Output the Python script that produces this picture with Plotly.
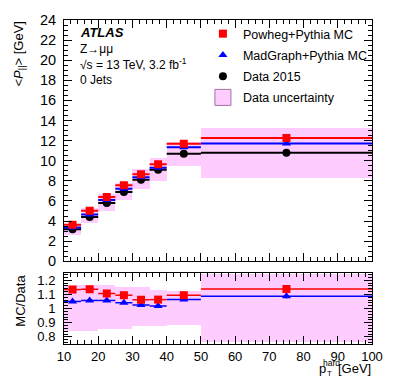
import plotly.graph_objects as go
from plotly.subplots import make_subplots

# bins in pT(hard) [GeV]
pt_center = [12.5, 17.5, 22.5, 27.5, 32.5, 37.5, 45, 75]
pt_halfwidth = [2.5, 2.5, 2.5, 2.5, 2.5, 2.5, 5, 25]

# mean P_parallel [GeV]
data_mean = [3.18, 4.40, 5.80, 6.90, 8.10, 9.10, 10.70, 10.80]
powheg_mean = [3.62, 5.02, 6.40, 7.55, 8.65, 9.65, 11.70, 12.25]
madgraph_mean = [3.35, 4.65, 6.10, 7.22, 8.35, 9.30, 11.35, 11.72]
unc_lo = [2.66, 3.83, 4.97, 6.10, 7.20, 7.95, 9.50, 8.30]
unc_hi = [3.73, 5.26, 6.66, 7.80, 9.15, 10.30, 11.90, 13.30]

# MC / Data
ratio_powheg = [1.134, 1.136, 1.106, 1.094, 1.062, 1.063, 1.094, 1.138]
ratio_madgraph = [1.050, 1.057, 1.057, 1.041, 1.025, 1.018, 1.064, 1.087]
ratio_err = [0.008, 0.008, 0.008, 0.008, 0.008, 0.008, 0.008, 0.016]
ratio_unc_lo = [0.840, 0.840, 0.853, 0.853, 0.873, 0.873, 0.883, 0.762]
ratio_unc_hi = [1.165, 1.165, 1.165, 1.152, 1.152, 1.129, 1.125, 1.240]

RED = "#ff0000"
BLUE = "#0000ff"
PINK = "#ffccff"
FONT = "Liberation Sans"

W, H = 395, 379
L, R, T, B = 63.5, 375, 15, 344


def px2x(p):
    return (p - L) / (R - L)


def px2y(p):
    return (B - p) / (B - T)


fig = make_subplots(rows=2, cols=1, shared_xaxes=True, vertical_spacing=0.0365,
                    row_heights=[0.745, 0.219])

widths = [2 * w for w in pt_halfwidth]

# data uncertainty bands
fig.add_trace(go.Bar(x=pt_center, y=[h - l for h, l in zip(unc_hi, unc_lo)], base=unc_lo,
                     width=widths, marker=dict(color=PINK, line=dict(width=0)),
                     showlegend=False, hoverinfo="skip"), row=1, col=1)
fig.add_trace(go.Bar(x=pt_center, y=[h - l for h, l in zip(ratio_unc_hi, ratio_unc_lo)],
                     base=ratio_unc_lo, width=widths,
                     marker=dict(color=PINK, line=dict(width=0)),
                     showlegend=False, hoverinfo="skip"), row=2, col=1)


def hbar(color):
    return dict(type="data", array=pt_halfwidth, width=0, thickness=2, color=color)


fig.add_trace(go.Scatter(x=pt_center, y=data_mean, mode="markers", name="Data 2015",
                         marker=dict(symbol="circle", size=8, color="black"),
                         error_x=hbar("black"), legendrank=3, legendgroup="c"), row=1, col=1)
fig.add_trace(go.Scatter(x=pt_center, y=madgraph_mean, mode="markers", name="MadGraph+Pythia MC",
                         marker=dict(symbol="triangle-up", size=8, color=BLUE),
                         error_x=hbar(BLUE), legendrank=2, legendgroup="b"), row=1, col=1)
fig.add_trace(go.Scatter(x=pt_center, y=powheg_mean, mode="markers", name="Powheg+Pythia MC",
                         marker=dict(symbol="square", size=8, color=RED),
                         error_x=hbar(RED), legendrank=1, legendgroup="a"), row=1, col=1)
fig.add_trace(go.Scatter(x=[None], y=[None], mode="markers", name="Data uncertainty",
                         marker=dict(symbol="square", size=16, color=PINK,
                                     line=dict(color="#a070a0", width=1)),
                         legendrank=4, legendgroup="d"), row=1, col=1)

fig.add_trace(go.Scatter(x=pt_center, y=ratio_madgraph, mode="markers", showlegend=False,
                         marker=dict(symbol="triangle-up", size=8, color=BLUE),
                         error_x=dict(type="data", array=pt_halfwidth, width=0, thickness=1.5, color=BLUE),
                         error_y=dict(type="data", array=ratio_err, width=0, thickness=1.5, color=BLUE)),
              row=2, col=1)
fig.add_trace(go.Scatter(x=pt_center, y=ratio_powheg, mode="markers", showlegend=False,
                         marker=dict(symbol="square", size=8, color=RED),
                         error_x=dict(type="data", array=pt_halfwidth, width=0, thickness=1.5, color=RED),
                         error_y=dict(type="data", array=ratio_err, width=0, thickness=1.5, color=RED)),
              row=2, col=1)

axis_common = dict(showline=True, linecolor="black", linewidth=1, mirror="allticks",
                   ticks="inside", ticklen=8, tickcolor="black", showgrid=False, zeroline=False)

fig.update_xaxes(range=[10, 100], dtick=10, tick0=0,
                 tickfont=dict(family=FONT, size=13, color="black"),
                 minor=dict(ticks="inside", ticklen=4, dtick=2, tickcolor="black", showgrid=False),
                 **axis_common)
fig.update_xaxes(showticklabels=False, row=1, col=1)
fig.update_yaxes(range=[0, 24], dtick=2, ticklabelstandoff=4,
                 tickfont=dict(family=FONT, size=14.5, color="black"),
                 minor=dict(ticks="inside", ticklen=4, dtick=0.5, tickcolor="black", showgrid=False),
                 row=1, col=1, **axis_common)
fig.update_yaxes(range=[0.75, 1.25], tickvals=[0.8, 0.9, 1.0, 1.1, 1.2],
                 ticktext=["0.8", "0.9", "1", "1.1", "1.2"], ticklabelstandoff=5,
                 tickfont=dict(family=FONT, size=13, color="black"),
                 minor=dict(ticks="inside", ticklen=4, dtick=0.02, tickcolor="black", showgrid=False),
                 row=2, col=1, **axis_common)


def note(text, xp, yp, size=12, xanchor="left", **kw):
    fig.add_annotation(text=text, x=px2x(xp), y=px2y(yp), xref="paper", yref="paper",
                       xanchor=xanchor, yanchor="middle", showarrow=False,
                       font=dict(family=FONT, size=size, color="black"), **kw)


note("<b><i>ATLAS</i></b>", 78, 28, size=13)
note("Z→μμ", 78, 44)
note("√s = 13 TeV, 3.2 fb<sup>-1</sup>", 78, 60)
note("0 Jets", 78, 76)

note("&lt;<i>P</i><sub>||</sub>&gt; [GeV]", 18, 50, size=13, xanchor="center", textangle=-90)
note("MC/Data", 20, 300, size=13, xanchor="center", textangle=-90)

# x title: p_T^hard [GeV], sub/superscript stacked
note("[GeV]", 376, 369, size=13, xanchor="right")
note("p", 325, 369, size=13, xanchor="center")
note("hard", 334, 363, size=8.5, xanchor="center")
note("T", 332, 374, size=8, xanchor="center")

fig.update_layout(
    width=W, height=H,
    margin=dict(l=L, r=W - R, t=T, b=H - B),
    paper_bgcolor="white", plot_bgcolor="white",
    barmode="overlay", bargap=0,
    font=dict(family=FONT, size=12, color="black"),
    legend=dict(x=px2x(204), y=px2y(14), xanchor="left", yanchor="top",
                bgcolor="rgba(0,0,0,0)", itemwidth=30, traceorder="grouped",
                font=dict(family=FONT, size=12.5, color="black"), tracegroupgap=2),
    showlegend=True,
)

# page body has a default 8px margin; drop it so the figure sits at the window origin
fig.write_html("out.html", config={"displayModeBar": False},
               post_script="document.body.style.margin='0';")
